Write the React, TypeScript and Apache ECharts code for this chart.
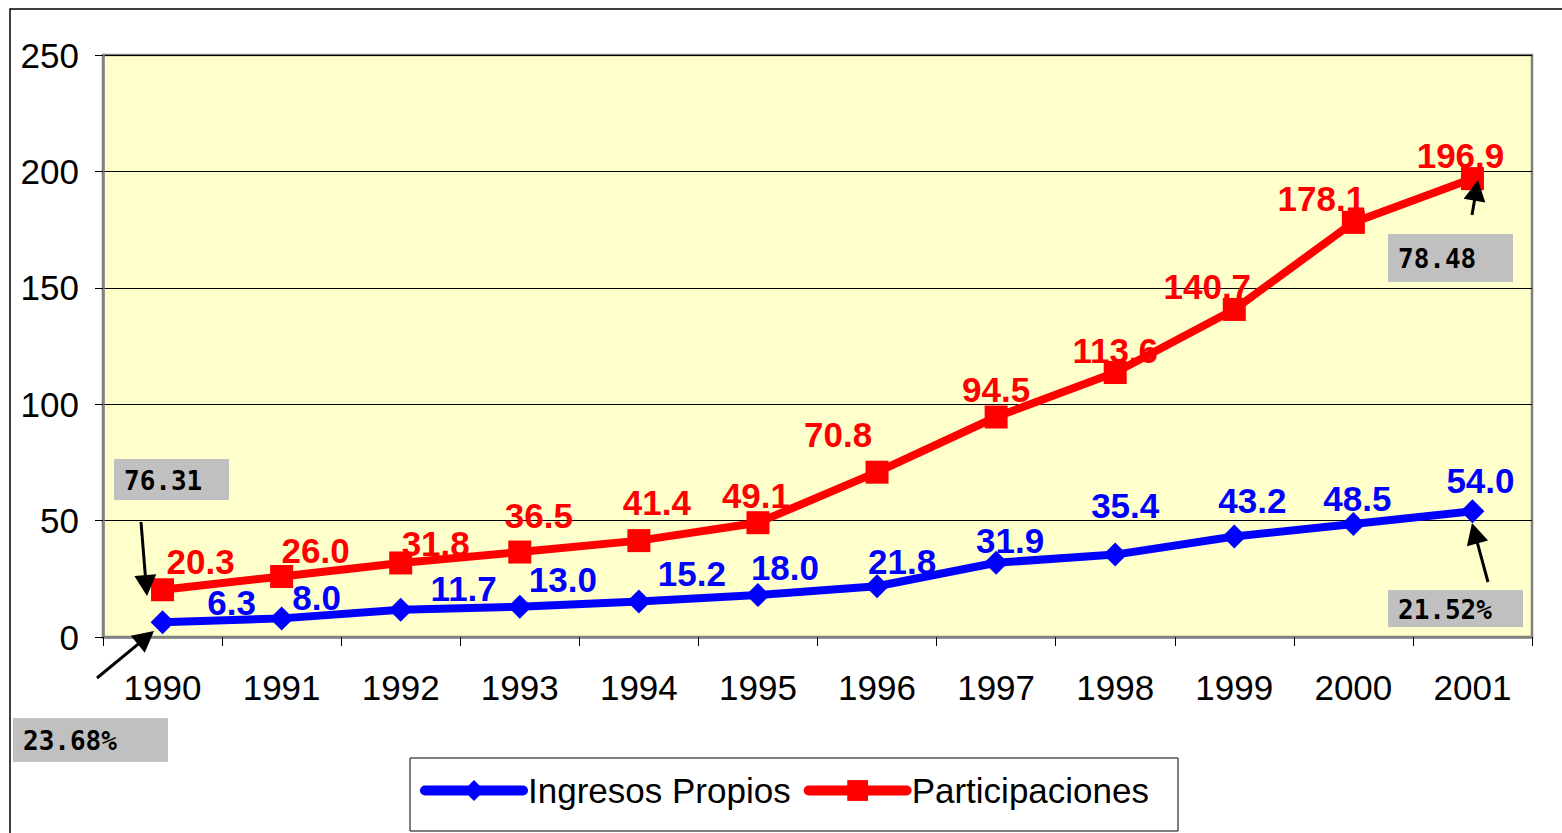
import React, { useEffect, useRef } from "react";
import * as echarts from "echarts";

const years = ["1990", "1991", "1992", "1993", "1994", "1995", "1996", "1997", "1998", "1999", "2000", "2001"];
const ingresosPropios = [6.3, 8.0, 11.7, 13.0, 15.2, 18.0, 21.8, 31.9, 35.4, 43.2, 48.5, 54.0];
const participaciones = [20.3, 26.0, 31.8, 36.5, 41.4, 49.1, 70.8, 94.5, 113.6, 140.7, 178.1, 196.9];
const seriesNames = ["Ingresos Propios", "Participaciones"];
const annotationTexts = ["76.31", "23.68%", "78.48", "21.52%"];

// label layout (pixel offsets from each point)
const ingresosLabelDx = [69, 35, 63, 43, 53, 27, 25, 14, 10, 18, 4, 8];
const ingresosLabelDy = [-20, -21, -21, -27, -28, -28, -25, -22, -49, -36, -26, -31];
const partLabelDx = [38, 34, 35, 19, 18, -2, -39, 0, 0, -27, -32, -12];
const partLabelDy = [-28, -26, -19, -37, -38, -27, -38, -28, -22, -23, -24, -23];

const SANS = "'Liberation Sans', Arial, sans-serif";

function arrow(tail: number[], tip: number[]) {
  const dx = tip[0] - tail[0];
  const dy = tip[1] - tail[1];
  const len = Math.sqrt(dx * dx + dy * dy);
  const ux = dx / len;
  const uy = dy / len;
  const hl = 21;
  const hw = 11;
  const bx = tip[0] - ux * hl;
  const by = tip[1] - uy * hl;
  return [
    {
      type: "line",
      shape: { x1: tail[0], y1: tail[1], x2: bx + ux * 2, y2: by + uy * 2 },
      style: { stroke: "#000", lineWidth: 3 },
      z: 100,
    },
    {
      type: "polygon",
      shape: {
        points: [
          [tip[0], tip[1]],
          [bx - uy * hw, by + ux * hw],
          [bx + uy * hw, by - ux * hw],
        ],
      },
      style: { fill: "#000" },
      z: 100,
    },
  ];
}

function box(x: number, y: number, w: number, h: number, text: string) {
  return [
    { type: "rect", shape: { x, y, width: w, height: h }, style: { fill: "#C0C0C0" }, z: 90 },
    {
      type: "text",
      x: x + 10,
      y: y + h / 2 + 1,
      style: {
        text,
        fill: "#000",
        font: "bold 26px 'DejaVu Sans Mono', monospace",
        verticalAlign: "middle",
        align: "left",
      },
      z: 91,
    },
  ];
}

export default function App() {
  const ref = useRef<HTMLDivElement>(null);
  useEffect(() => {
    if (!ref.current) return;
    const chart = echarts.init(ref.current, null, { renderer: "svg" });
    const labelFont = {
      fontFamily: SANS,
      fontWeight: "bold" as const,
      fontSize: 35,
    };
    chart.setOption({
      animation: false,
      backgroundColor: "#fff",
      grid: {
        left: 103,
        top: 55,
        right: 30,
        bottom: 196,
        show: true,
        backgroundColor: "#FFFFCC",
        borderColor: "#808080",
        borderWidth: 2.5,
      },
      legend: {
        data: seriesNames,
        left: 420,
        top: 773,
        padding: 0,
        itemWidth: 98,
        itemHeight: 26,
        itemGap: 13,
        lineStyle: { width: 10, cap: "round" },
        textStyle: { fontFamily: SANS, fontSize: 35, color: "#000", padding: [0, 0, 0, 0] },
      },
      xAxis: {
        type: "category",
        data: years,
        boundaryGap: true,
        axisLine: { lineStyle: { color: "#808080", width: 2.5 } },
        axisTick: { show: true, length: 9, lineStyle: { color: "#000", width: 1 } },
        axisLabel: { color: "#000", fontSize: 35, fontFamily: SANS, margin: 33 },
        splitLine: { show: false },
      },
      yAxis: {
        type: "value",
        min: 0,
        max: 250,
        interval: 50,
        axisLine: { show: true, lineStyle: { color: "#808080", width: 2.5 } },
        axisTick: { show: true, length: 8, lineStyle: { color: "#000", width: 1 } },
        axisLabel: { color: "#000", fontSize: 35, fontFamily: SANS, margin: 24 },
        splitLine: { show: true, lineStyle: { color: "#000", width: 1 } },
      },
      series: [
        {
          name: seriesNames[0],
          type: "line",
          data: ingresosPropios.map((v, i) => ({
            value: v,
            label: { offset: [ingresosLabelDx[i], ingresosLabelDy[i]] },
          })),
          symbol: "diamond",
          symbolSize: 24,
          lineStyle: { color: "#0000FF", width: 8 },
          itemStyle: { color: "#0000FF" },
          label: {
            show: true,
            position: "inside",
            align: "center",
            verticalAlign: "middle",
            color: "#0000FF",
            formatter: (p: any) => Number(p.value).toFixed(1),
            ...labelFont,
          },
          z: 3,
        },
        {
          name: seriesNames[1],
          type: "line",
          data: participaciones.map((v, i) => ({
            value: v,
            label: { offset: [partLabelDx[i], partLabelDy[i]] },
          })),
          symbol: "rect",
          symbolSize: 23,
          lineStyle: { color: "#FF0000", width: 8 },
          itemStyle: { color: "#FF0000" },
          label: {
            show: true,
            position: "inside",
            align: "center",
            verticalAlign: "middle",
            color: "#FF0000",
            formatter: (p: any) => Number(p.value).toFixed(1),
            ...labelFont,
          },
          z: 4,
        },
      ],
      graphic: [
        {
          type: "rect",
          shape: { x: 10, y: 9, width: 1700, height: 1000 },
          style: { fill: "none", stroke: "#000", lineWidth: 1.5 },
          silent: true,
          z: 0,
        },
        {
          type: "rect",
          shape: { x: 410, y: 758, width: 768, height: 73 },
          style: { fill: "none", stroke: "#000", lineWidth: 1 },
          silent: true,
          z: 0,
        },
        ...box(114, 459, 115, 41, annotationTexts[0]),
        ...box(13, 718, 155, 44, annotationTexts[1]),
        ...box(1388, 234, 125, 48, annotationTexts[2]),
        ...box(1388, 590, 135, 37, annotationTexts[3]),
        ...arrow([141, 522], [147, 596]),
        ...arrow([97, 678], [154, 631]),
        ...arrow([1472, 215], [1478, 180]),
        ...arrow([1488, 582], [1472, 523]),
      ],
    });
    return () => chart.dispose();
  }, []);
  return (
    <div
      ref={ref}
      style={{ position: "fixed", left: 0, top: 0, width: 1562, height: 833 }}
    />
  );
}
